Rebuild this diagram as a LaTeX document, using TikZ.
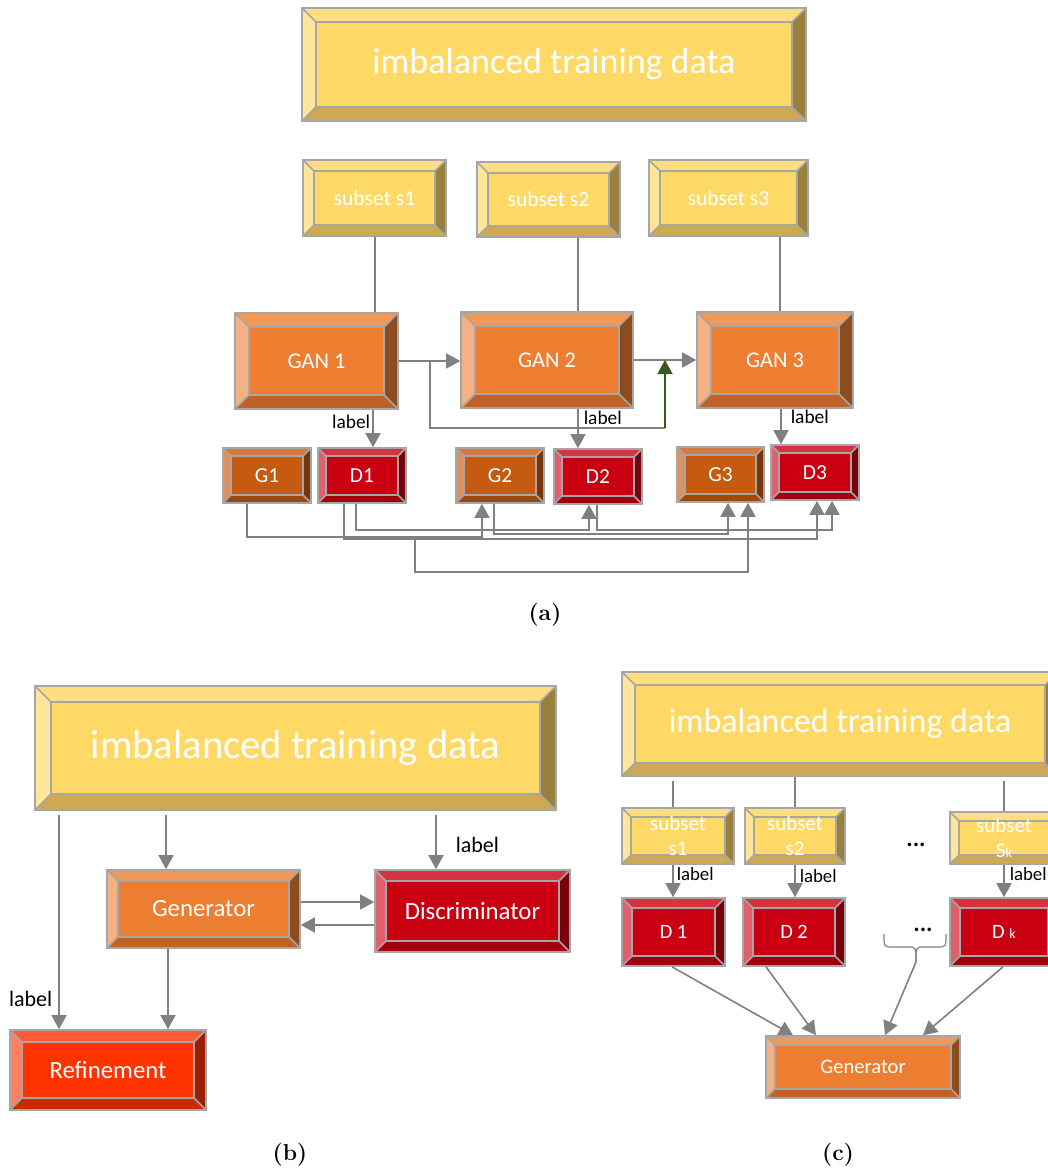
\documentclass[tikz,border=0pt]{standalone}
\usepackage{fontspec}
\usepackage{tikz}
\usetikzlibrary{arrows.meta}

\newfontfamily\boxfont{Carlito}

% gray of borders and connectors
\definecolor{edge}{RGB}{166,166,166}
\definecolor{linegray}{RGB}{128,128,128}
\definecolor{arrowgreen}{RGB}{56,87,35}
% yellow data boxes
\definecolor{yface}{RGB}{255,217,102}
\definecolor{ytop}{RGB}{255,222,128}
\definecolor{yleft}{RGB}{255,230,153}
\definecolor{yright}{RGB}{153,128,61}
\definecolor{ybot}{RGB}{204,169,82}
% orange GAN / generator boxes
\definecolor{oface}{RGB}{237,125,49}
\definecolor{otop}{RGB}{240,151,90}
\definecolor{oleft}{RGB}{244,177,131}
\definecolor{oright}{RGB}{142,75,29}
\definecolor{obot}{RGB}{192,98,37}
% dark orange G boxes
\definecolor{gface}{RGB}{197,90,17}
\definecolor{gtop}{RGB}{209,123,64}
\definecolor{gleft}{RGB}{220,145,95}
\definecolor{gright}{RGB}{118,54,10}
\definecolor{gbot}{RGB}{158,72,14}
% red D boxes
\definecolor{rface}{RGB}{200,0,18}
\definecolor{rtop}{RGB}{212,51,64}
\definecolor{rleft}{RGB}{222,96,108}
\definecolor{rright}{RGB}{120,0,11}
\definecolor{rbot}{RGB}{160,0,14}
% refinement box
\definecolor{fface}{RGB}{255,51,0}
\definecolor{ftop}{RGB}{255,92,51}
\definecolor{fleft}{RGB}{255,128,96}
\definecolor{fright}{RGB}{153,31,0}
\definecolor{fbot}{RGB}{204,41,0}

\tikzset{bw/.store in=\bw, bw=5pt}

\begin{document}
\begin{tikzpicture}[
        x=0.5pt, y=-0.5pt,
        box/.style n args={4}{
            at={({(#1+#3)/2},{(#2+#4)/2})},
            minimum width={(#3-#1)*0.5pt}, minimum height={(#4-#2)*0.5pt}
        },
        bevel/.style n args={5}{
            draw=edge, line width=0.8pt, fill=#1, text=white, inner sep=0pt,
            path picture={
                \path (path picture bounding box.north west) coordinate (p1)
                      (path picture bounding box.north east) coordinate (p2)
                      (path picture bounding box.south east) coordinate (p3)
                      (path picture bounding box.south west) coordinate (p4);
                \path ([shift={(\bw,-\bw)}]p1) coordinate (q1)
                      ([shift={(-\bw,-\bw)}]p2) coordinate (q2)
                      ([shift={(-\bw,\bw)}]p3) coordinate (q3)
                      ([shift={(\bw,\bw)}]p4) coordinate (q4);
                \fill[#2] (p1) -- (p2) -- (q2) -- (q1) -- cycle;
                \fill[#3] (p1) -- (q1) -- (q4) -- (p4) -- cycle;
                \fill[#4] (p2) -- (p3) -- (q3) -- (q2) -- cycle;
                \fill[#5] (p4) -- (p3) -- (q3) -- (q4) -- cycle;
                \draw[edge, line width=0.8pt] (q1) rectangle (q3)
                    (p1) -- (q1) (p2) -- (q2) (p3) -- (q3) (p4) -- (q4);
            }
        },
        ybox/.style={bevel={yface}{ytop}{yleft}{yright}{ybot}},
        obox/.style={bevel={oface}{otop}{oleft}{oright}{obot}},
        gbox/.style={bevel={gface}{gtop}{gleft}{gright}{gbot}},
        rbox/.style={bevel={rface}{rtop}{rleft}{rright}{rbot}},
        refbox/.style={bevel={fface}{ftop}{fleft}{fright}{fbot}},
        txt/.style={font=\boxfont\fontsize{#1}{#1}\selectfont},
        twoline/.style={font=\boxfont\fontsize{10.5}{12.5}\selectfont, align=center},
        lbl/.style={font=\boxfont\fontsize{#1}{#1}\selectfont, text=black, inner sep=1pt},
        dots/.style={font=\boxfont\bfseries\fontsize{12}{12}\selectfont, text=black, inner sep=0pt},
        caption/.style={font=\bfseries\fontsize{11.5}{13}\selectfont},
        line/.style={draw=linegray, line width=0.8pt},
        arr/.style={line, -{Triangle[length=7pt, width=7.5pt]}},
        green arrow/.style={draw=arrowgreen, line width=0.8pt, -{Triangle[length=7pt, width=7.5pt]}}
    ]
    \useasboundingbox (0,0) rectangle (1048,1169);
    \clip (0,0) rectangle (1048,1169);

    % (a) training data, subsets and the chain of GANs
    \node[ybox, bw=7pt, txt=18, box={302}{8}{806}{121}] (dataA) {imbalanced training data};
    \node[ybox, bw=5.5pt, txt=10.8, box={303}{160}{446}{236}] (s1) {subset s1};
    \node[ybox, bw=5.5pt, txt=10.8, box={477}{162}{620}{237}] (s2) {subset s2};
    \node[ybox, bw=5.5pt, txt=10.8, box={649}{160}{808}{236}] (s3) {subset s3};

    \node[obox, bw=7pt, txt=11.2, box={235}{313}{398}{409}] (gan1) {GAN 1};
    \node[obox, bw=7pt, txt=11.2, box={461}{312}{633}{408}] (gan2) {GAN 2};
    \node[obox, bw=7pt, txt=11.2, box={697}{312}{853}{408}] (gan3) {GAN 3};

    \node[gbox, bw=4pt, txt=10.7, box={223}{448}{311}{503}] (g1) {G1};
    \node[rbox, bw=4pt, txt=10.7, box={318}{448}{406}{503}] (d1) {D1};
    \node[gbox, bw=4pt, txt=10.7, box={456}{448}{544}{503}] (g2) {G2};
    \node[rbox, bw=4pt, txt=10.7, box={554}{449}{642}{504}] (d2) {D2};
    \node[gbox, bw=4pt, txt=10.7, box={677}{447}{764}{502}] (g3) {G3};
    \node[rbox, bw=4pt, txt=10.7, box={771}{445}{859}{500}] (d3) {D3};

    % subsets feed the GANs
    \draw[line] (375,0 |- s1.south) -- (375,0 |- gan1.north);
    \draw[line] (578,0 |- s2.south) -- (578,0 |- gan2.north);
    \draw[line] (780,0 |- s3.south) -- (780,0 |- gan3.north);

    % GAN chain
    \draw[arr] (gan1.east) -- (gan1.east -| gan2.west);
    \draw[arr] (gan2.east) -- (gan2.east -| gan3.west);
    \coordinate (tap) at (430,0 |- gan1.east);
    \coordinate (turn) at (665,428);
    \draw[line] (tap) |- (turn);
    \draw[green arrow] (turn) -- (turn |- gan2.east);

    % labels into the discriminators
    \draw[arr] (373,0 |- gan1.south) -- (373,0 |- d1.north) node[lbl=9.7, pos=0.33, left=0pt] {label};
    \draw[arr] (578,0 |- gan2.south) -- (578,0 |- d2.north) node[lbl=9.7, pos=0.22, right=1.5pt] {label};
    \draw[arr] (781,0 |- gan3.south) -- (781,0 |- d3.north) node[lbl=9.7, pos=0.22, right=3.5pt] {label};

    % sharing between generators and discriminators
    \coordinate (fork) at (415,539);
    \draw[arr] (247,0 |- g1.south) |- (482,537) -- (482,0 |- g2.south);
    \draw[arr] (356,0 |- d1.south) |- (589,530) -- (589,0 |- d2.south);
    \draw[arr] (344,0 |- d1.south) |- (817,539) -- (817,0 |- d3.south);
    \draw[arr] (fork) |- (748,572) -- (748,0 |- g3.south);
    \draw[arr] (494,0 |- g2.south) |- (728,534) -- (728,0 |- g3.south);
    \draw[arr] (597,0 |- d2.south) |- (832,530) -- (832,0 |- d3.south);

    \node[caption] (capA) at (545,615) {(a)};

    % (b) generator, discriminator and refinement
    \node[ybox, bw=8pt, txt=20.3, box={35}{686}{556}{810}] (dataB) {imbalanced training data};
    \node[obox, bw=5.5pt, txt=12.4, box={107}{870}{300}{948}] (genB) {Generator};
    \node[rbox, bw=5.5pt, txt=12.4, box={375}{870}{570}{952}] (disB) {Discriminator};
    \node[refbox, bw=6pt, txt=12.4, box={10}{1030}{206}{1110}] (refB) {Refinement};

    \draw[arr, shorten <=2pt] (59,0 |- dataB.south) -- (59,0 |- refB.north) node[lbl=11, pos=0.86, left=2pt] {label};
    \draw[arr, shorten <=2pt] (166,0 |- dataB.south) -- (166,0 |- genB.north);
    \draw[arr, shorten <=2pt] (436,0 |- dataB.south) -- (436,0 |- disB.north) node[lbl=11, pos=0.58, right=8.5pt] {label};
    \draw[arr] (genB.east |- 0,902) -- (disB.west |- 0,902);
    \draw[arr] (disB.west |- 0,925) -- (genB.east |- 0,925);
    \draw[arr] (168,0 |- genB.south) -- (168,0 |- refB.north);

    \node[caption] (capB) at (290,1155) {(b)};

    % (c) one discriminator per subset, one generator
    \node[ybox, bw=6.5pt, txt=17, box={622}{672}{1058}{776}] (dataC) {imbalanced training data};
    \node[ybox, bw=4.5pt, twoline, box={622}{808}{734}{864}] (sc1) {subset\\s1};
    \node[ybox, bw=4.5pt, twoline, box={745}{808}{845}{864}] (sc2) {subset\\s2};
    \node[ybox, bw=4.5pt, twoline, box={950}{812}{1058}{864}] (sck) {subset\\S{\fontsize{7}{7}\selectfont k}};
    \node[dots] (dots1) at (916,845) {...};

    \node[rbox, bw=5pt, txt=10.2, box={622}{898}{725}{966}] (dc1) {D 1};
    \node[rbox, bw=5pt, txt=10.2, box={743}{898}{845}{966}] (dc2) {D 2};
    \node[rbox, bw=5pt, txt=10.2, box={950}{898}{1058}{966}] (dck) {D {\fontsize{7}{7}\selectfont k}};
    \node[dots] (dots2) at (923,930) {...};

    \node[obox, bw=4.5pt, txt=10.3, box={766}{1036}{960}{1098}] (genC) {Generator};

    \draw[line, shorten <=2pt] (673,0 |- dataC.south) -- (673,0 |- sc1.north);
    \draw[line] (795,0 |- dataC.south) -- (795,0 |- sc2.north);
    \draw[line, shorten <=2pt] (1004,0 |- dataC.south) -- (1004,0 |- sck.north);

    \draw[arr] (673,0 |- sc1.south) -- (673,0 |- dc1.north) node[lbl=9.4, pos=0.3, right=0.5pt] {label};
    \draw[arr] (795,0 |- sc2.south) -- (795,0 |- dc2.north) node[lbl=9.4, pos=0.36, right=1pt] {label};
    \draw[arr] (1004,0 |- sck.south) -- (1004,0 |- dck.north) node[lbl=9.4, pos=0.3, right=1.5pt] {label};

    % brace under the dots
    \coordinate (brtip) at (916,962);
    \draw[line, line width=0.6pt] (884,934) .. controls (884,947) .. (892,947) -- (908,947)
        .. controls (916,947) .. (brtip);
    \draw[line, line width=0.6pt] (brtip) .. controls (916,947) .. (924,947) -- (938,947)
        .. controls (946,947) .. (946,934);

    \draw[arr] (672,0 |- dc1.south) -- (793,0 |- genC.north);
    \draw[arr] (766,0 |- dc2.south) -- (816,0 |- genC.north);
    \draw[arr] (brtip) -- (885,0 |- genC.north);
    \draw[arr] (1003,0 |- dck.south) -- (923,0 |- genC.north);

    \node[caption] (capC) at (838,1155) {(c)};
\end{tikzpicture}
\end{document}
